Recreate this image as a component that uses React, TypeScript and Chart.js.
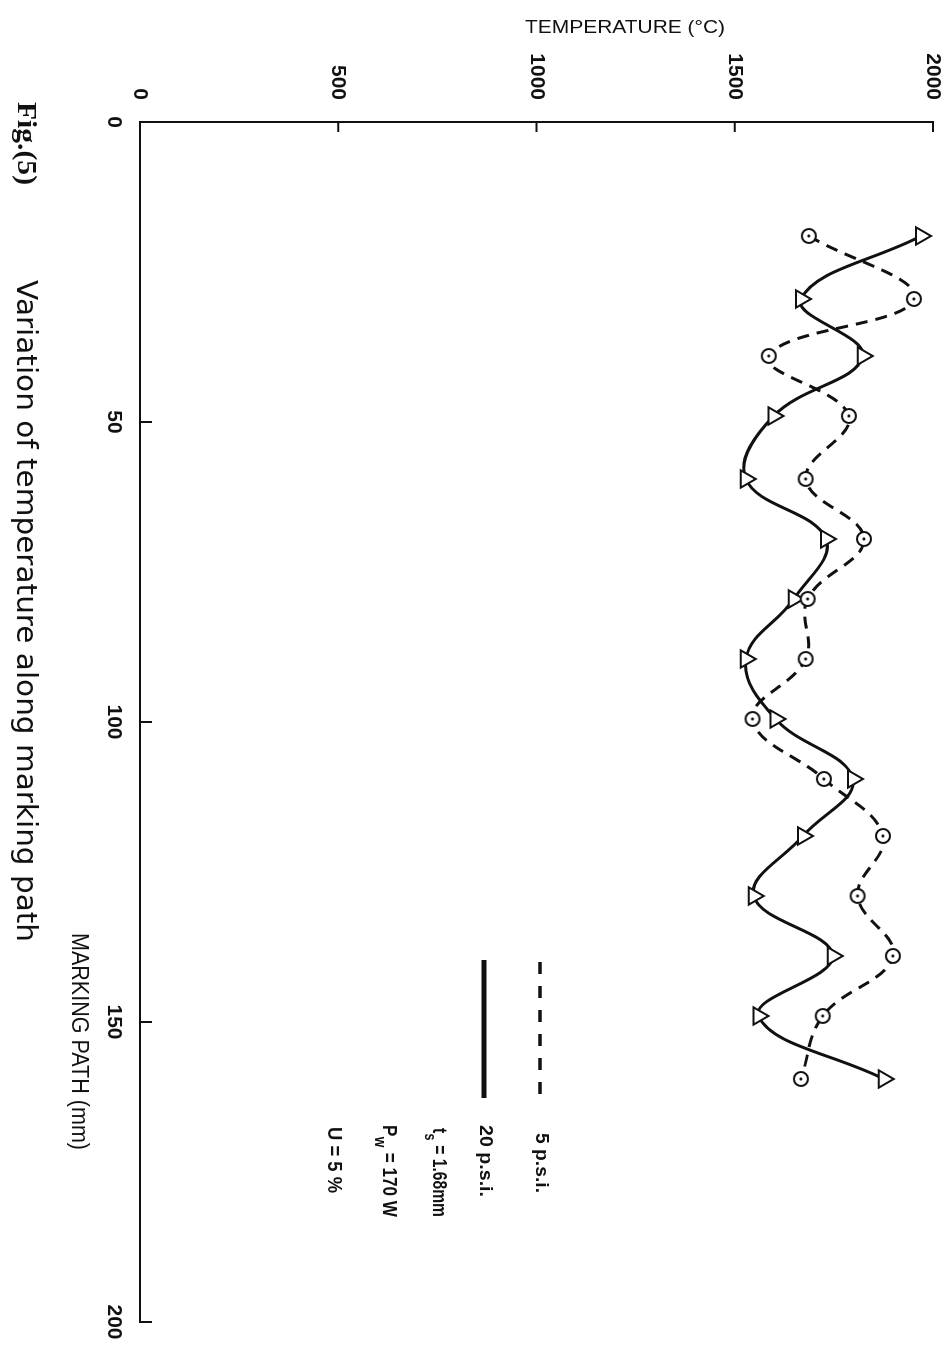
import React, { useEffect, useRef } from "react";
import { Chart, registerables } from "chart.js";

Chart.register(...registerables);

// ---- data ----
const markingPath = [19, 29.5, 39, 49, 59.5, 69.5, 79.5, 89.5, 99.5, 109.5, 119, 129, 139, 149, 159.5];
const temp5psi = [1687, 1952, 1586, 1788, 1679, 1826, 1684, 1679, 1545, 1725, 1874, 1810, 1899, 1722, 1667];
const temp20psi = [1970, 1667, 1823, 1598, 1528, 1730, 1649, 1528, 1603, 1798, 1672, 1548, 1747, 1560, 1876];
const xTicks = [0, 50, 100, 150, 200];
const yTicks = [0, 500, 1000, 1500, 2000];
const seriesLabels = ["5 p.s.i.", "20 p.s.i."];
const xTitle = "MARKING PATH (mm)";
const yTitle = "TEMPERATURE (°C)";
const caption = "Variation of temperature along marking path";
const figLabel = "Fig.(5)";
const paramLines = [
  ["t", "s", " = 1.68mm"],
  ["P", "w", " = 170 W"],
  ["U", "", " = 5 %"],
];

const SANS = "'Liberation Sans', Arial, sans-serif";
const CAPTION_FONT = "'DejaVu Sans', 'Liberation Sans', sans-serif";
const INK = "#111";

// canvas size in the un-rotated (original) orientation
const W = 1351;
const H = 951;

function makeCircleDot(): HTMLCanvasElement {
  const c = document.createElement("canvas");
  c.width = 20;
  c.height = 20;
  const g = c.getContext("2d")!;
  g.beginPath();
  g.arc(10, 10, 7, 0, Math.PI * 2);
  g.fillStyle = "#fff";
  g.fill();
  g.lineWidth = 2;
  g.strokeStyle = INK;
  g.stroke();
  g.beginPath();
  g.arc(10, 10, 1.6, 0, Math.PI * 2);
  g.fillStyle = INK;
  g.fill();
  return c;
}

function fitText(
  ctx: CanvasRenderingContext2D,
  text: string,
  x: number,
  y: number,
  width: number,
  font: string,
  align: CanvasTextAlign = "left",
  baseline: CanvasTextBaseline = "alphabetic"
) {
  ctx.save();
  ctx.font = font;
  const w = ctx.measureText(text).width;
  const s = width / w;
  ctx.translate(x, y);
  ctx.scale(s, 1);
  ctx.textAlign = align;
  ctx.textBaseline = baseline;
  ctx.fillText(text, 0, 0);
  ctx.restore();
}

function richText(
  ctx: CanvasRenderingContext2D,
  parts: string[],
  x: number,
  y: number,
  width: number,
  size: number
) {
  const [main, sub, rest] = parts;
  const big = `bold ${size}px ${SANS}`;
  const small = `bold ${Math.round(size * 0.78)}px ${SANS}`;
  ctx.save();
  ctx.font = big;
  const w1 = ctx.measureText(main).width;
  const w3 = ctx.measureText(rest).width;
  ctx.font = small;
  const w2 = sub ? ctx.measureText(sub).width + 1 : 0;
  const total = w1 + w2 + w3;
  const s = width / total;
  ctx.translate(x, y);
  ctx.scale(s, 1);
  ctx.textAlign = "left";
  ctx.textBaseline = "middle";
  ctx.font = big;
  ctx.fillText(main, 0, 0);
  if (sub) {
    ctx.font = small;
    ctx.fillText(sub, w1 + 0.5, size * 0.5);
  }
  ctx.font = big;
  ctx.fillText(rest, w1 + w2, 0);
  ctx.restore();
}

const annotate = {
  id: "annotate",
  afterDraw(chart: any) {
    const ctx: CanvasRenderingContext2D = chart.ctx;
    const xs = chart.scales.x;
    const ys = chart.scales.y;
    const area = chart.chartArea;
    ctx.save();
    ctx.strokeStyle = INK;
    ctx.fillStyle = INK;
    ctx.lineWidth = 2;
    ctx.setLineDash([]);
    // inward tick marks
    xTicks.forEach((v) => {
      if (v === 0) return;
      const px = xs.getPixelForValue(v);
      ctx.beginPath();
      ctx.moveTo(px, area.bottom);
      ctx.lineTo(px, area.bottom - 12);
      ctx.stroke();
    });
    yTicks.forEach((v) => {
      if (v === 0) return;
      const py = ys.getPixelForValue(v);
      ctx.beginPath();
      ctx.moveTo(area.left, py);
      ctx.lineTo(area.left + 10, py);
      ctx.stroke();
    });

    // axis titles
    ctx.save();
    ctx.translate(33, 326);
    ctx.rotate(-Math.PI / 2);
    fitText(ctx, yTitle, 0, 0, 200, `18px ${SANS}`, "center");
    ctx.restore();
    fitText(ctx, xTitle, 933, 879, 217, `23px ${SANS}`, "left");

    // legend
    const ds0 = chart.data.datasets[0];
    const ds1 = chart.data.datasets[1];
    ctx.strokeStyle = ds0.borderColor;
    ctx.lineWidth = 3.5;
    ctx.setLineDash([12, 12]);
    ctx.beginPath();
    ctx.moveTo(962, 411);
    ctx.lineTo(1098, 411);
    ctx.stroke();
    ctx.setLineDash([]);
    ctx.strokeStyle = ds1.borderColor;
    ctx.lineWidth = 5;
    ctx.beginPath();
    ctx.moveTo(960, 467);
    ctx.lineTo(1098, 467);
    ctx.stroke();
    fitText(ctx, seriesLabels[0], 1133, 410, 60, `bold 19px ${SANS}`, "left", "middle");
    fitText(ctx, seriesLabels[1], 1125, 466, 72, `bold 19px ${SANS}`, "left", "middle");
    richText(ctx, paramLines[0], 1128, 512, 89, 20);
    richText(ctx, paramLines[1], 1125, 562, 92, 20);
    richText(ctx, paramLines[2], 1127, 617, 66, 20);

    // caption
    fitText(ctx, figLabel, 102, 933, 83, `bold 27px 'Liberation Serif', serif`, "left");
    fitText(ctx, caption, 280, 934, 662, `28px ${CAPTION_FONT}`, "left");
    ctx.restore();
  },
};

export default function App() {
  const ref = useRef<HTMLCanvasElement | null>(null);

  useEffect(() => {
    if (!ref.current) return;
    const circleDot = makeCircleDot();
    const tickFont = { family: SANS, size: 21, weight: "bold" as const };
    const chart = new Chart(ref.current, {
      type: "scatter",
      data: {
        datasets: [
          {
            label: seriesLabels[0],
            data: markingPath.map((x, i) => ({ x, y: temp5psi[i] })),
            showLine: true,
            borderColor: INK,
            borderWidth: 3,
            borderDash: [12, 8],
            tension: 0.4,
            pointStyle: circleDot as any,
            pointRadius: 8,
            pointHoverRadius: 8,
          },
          {
            label: seriesLabels[1],
            data: markingPath.map((x, i) => ({ x, y: temp20psi[i] })),
            showLine: true,
            borderColor: INK,
            borderWidth: 3,
            tension: 0.4,
            pointStyle: "triangle",
            pointRadius: 10,
            pointHoverRadius: 10,
            pointBackgroundColor: "#fff",
            pointBorderColor: INK,
            pointBorderWidth: 2,
          },
        ],
      },
      options: {
        responsive: false,
        animation: false,
        devicePixelRatio: 1,
        layout: { padding: { top: 18, right: 29, left: 0, bottom: 0 } },
        plugins: {
          legend: { display: false },
          tooltip: { enabled: false },
        },
        scales: {
          x: {
            type: "linear",
            min: 0,
            max: 200,
            afterBuildTicks: (s: any) => {
              s.ticks = xTicks.map((v) => ({ value: v }));
            },
            afterFit: (s: any) => {
              s.height = 140;
              s.paddingLeft = 0;
              s.paddingRight = 0;
            },
            grid: { display: true, drawOnChartArea: false, drawTicks: false },
            border: { display: true, color: INK, width: 2 },
            ticks: {
              padding: 14,
              font: tickFont,
              color: INK,
              maxRotation: 0,
              autoSkip: false,
              callback: (v: any) => String(v),
            },
          },
          y: {
            type: "linear",
            min: 0,
            max: 2000,
            afterBuildTicks: (s: any) => {
              s.ticks = yTicks.map((v) => ({ value: v }));
            },
            afterFit: (s: any) => {
              s.width = 122;
              s.paddingTop = 0;
              s.paddingBottom = 0;
            },
            grid: { display: true, drawOnChartArea: false, drawTicks: false },
            border: { display: true, color: INK, width: 2 },
            ticks: {
              padding: 22,
              font: tickFont,
              color: INK,
              autoSkip: false,
              callback: (v: any) => String(v),
            },
          },
        },
      },
      plugins: [annotate],
    } as any);
    return () => chart.destroy();
  }, []);

  return (
    <div
      style={{
        position: "absolute",
        left: 0,
        top: 0,
        width: 951,
        height: 1351,
        overflow: "hidden",
        background: "#fff",
      }}
    >
      <div
        style={{
          position: "absolute",
          left: 0,
          top: 0,
          width: W,
          height: H,
          transformOrigin: "0 0",
          transform: "translate(951px, 0px) rotate(90deg)",
        }}
      >
        <canvas ref={ref} width={W} height={H} style={{ display: "block", width: W, height: H }} />
      </div>
    </div>
  );
}
